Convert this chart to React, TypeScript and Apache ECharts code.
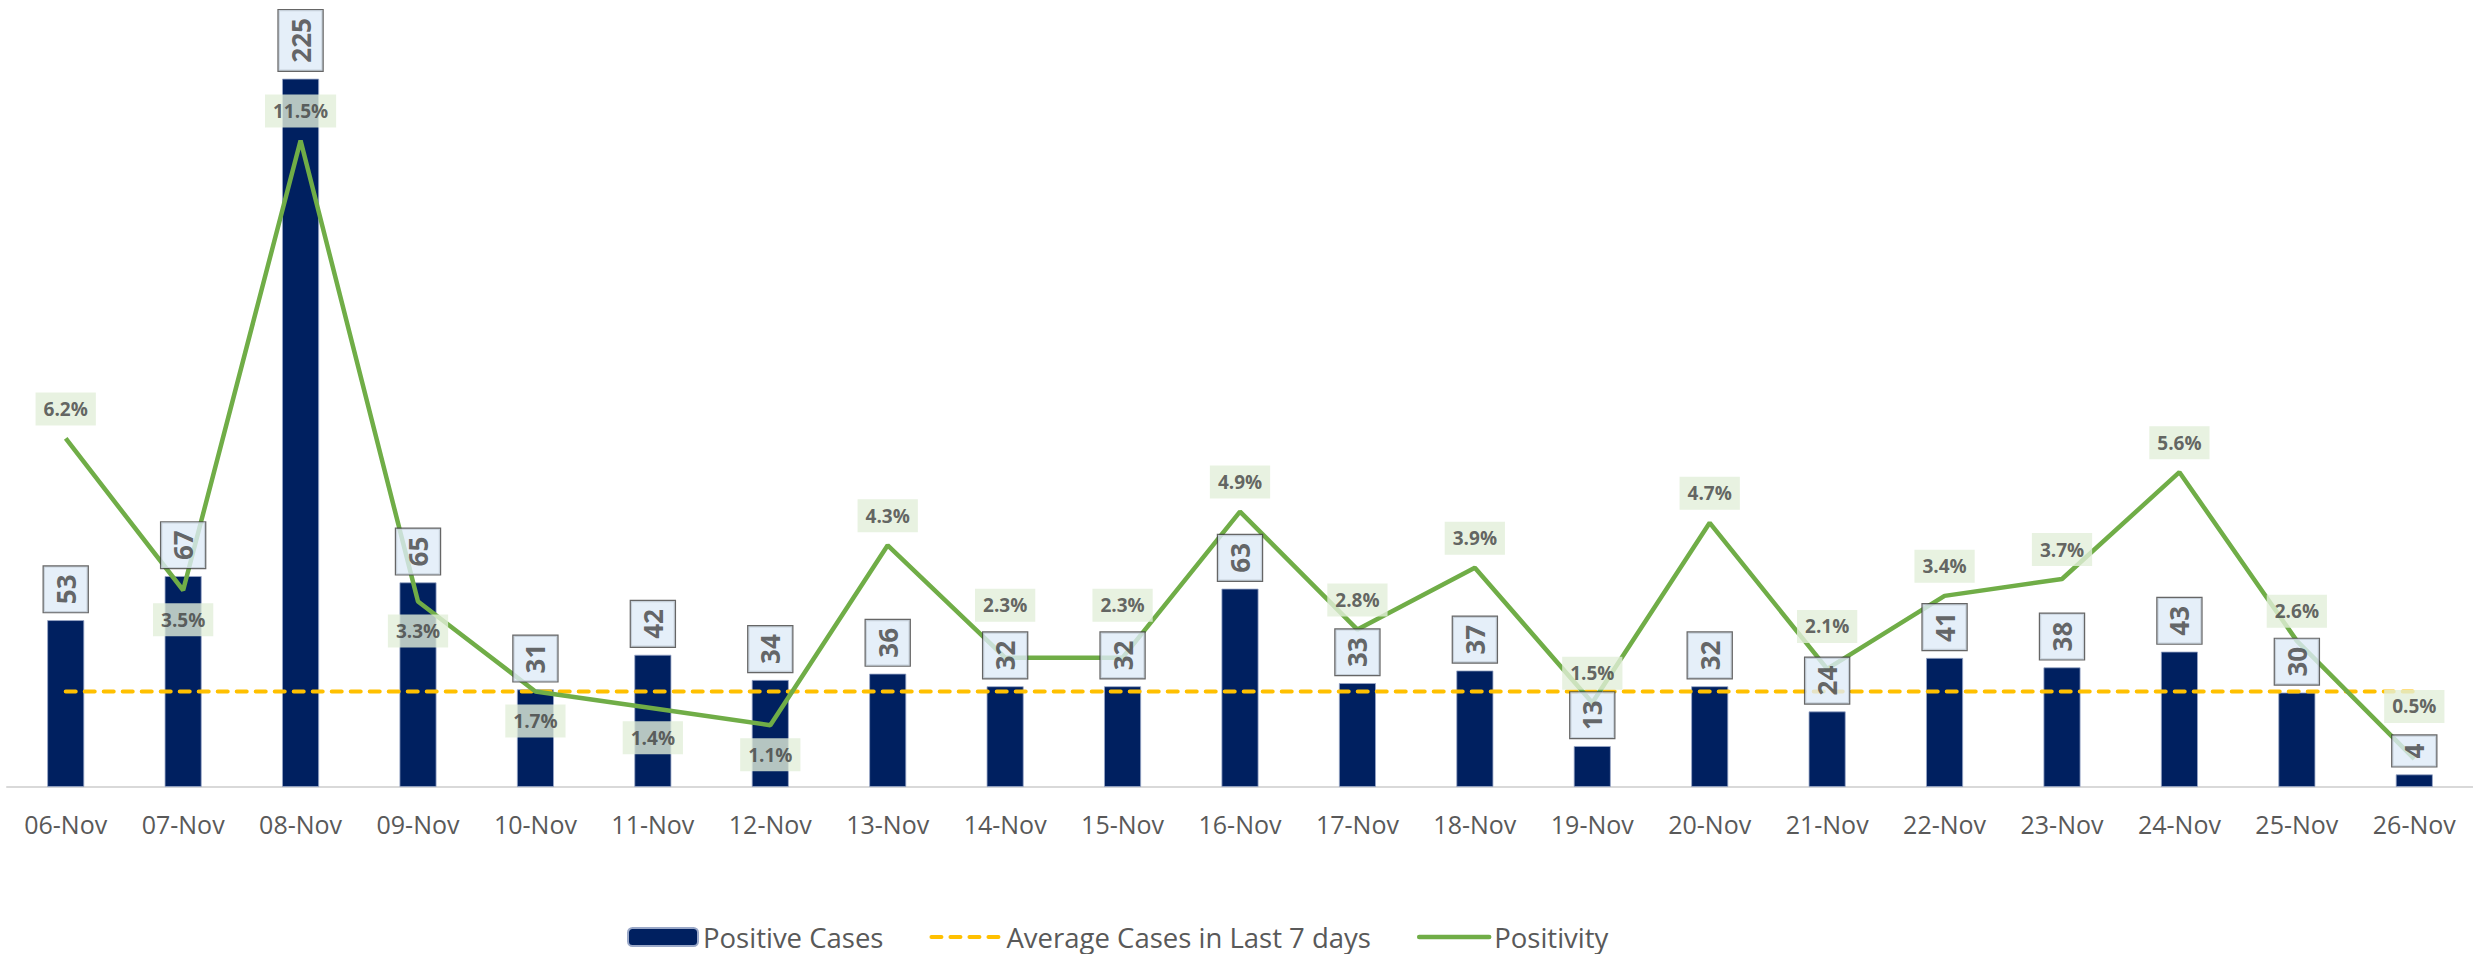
import React, { useEffect, useRef } from "react";
import * as echarts from "echarts";

const categories = [
  "06-Nov", "07-Nov", "08-Nov", "09-Nov", "10-Nov", "11-Nov", "12-Nov",
  "13-Nov", "14-Nov", "15-Nov", "16-Nov", "17-Nov", "18-Nov", "19-Nov",
  "20-Nov", "21-Nov", "22-Nov", "23-Nov", "24-Nov", "25-Nov", "26-Nov",
];
const positiveCases = [53, 67, 225, 65, 31, 42, 34, 36, 32, 32, 63, 33, 37, 13, 32, 24, 41, 38, 43, 30, 4];
const averageCases = [30.3, 30.3, 30.3, 30.3, 30.3, 30.3, 30.3, 30.3, 30.3, 30.3, 30.3, 30.3, 30.3, 30.3, 30.3, 30.3, 30.3, 30.3, 30.3, 30.3, 30.3];
const positivity = [6.2, 3.5, 11.5, 3.3, 1.7, 1.4, 1.1, 4.3, 2.3, 2.3, 4.9, 2.8, 3.9, 1.5, 4.7, 2.1, 3.4, 3.7, 5.6, 2.6, 0.5];
// indices of positivity labels placed below the point
const labelsBelow = [1, 3, 4, 5, 6];
// labels nudged further from their point (index -> distance)
const labelFar: Record<number, number> = { 8: 36, 9: 36, 15: 26, 20: 36 };

const FONT = "'Open Sans', 'Noto Sans', sans-serif";

export default function App() {
  const ref = useRef<HTMLDivElement>(null);
  useEffect(() => {
    if (!ref.current) return;
    const chart = echarts.init(ref.current, undefined, { renderer: "svg" });
    const pctData = positivity.map((v, i) => {
      const below = labelsBelow.indexOf(i) >= 0;
      const item: any = { value: v, label: { position: below ? "bottom" : "top" } };
      if (labelFar[i] !== undefined) item.label.distance = labelFar[i];
      return item;
    });
    chart.setOption({
      animation: false,
      backgroundColor: "#ffffff",
      grid: { left: 7, right: -14, top: -4, bottom: 167, containLabel: false },
      legend: {
        left: 627,
        top: 923,
        padding: 0,
        itemWidth: 70,
        itemHeight: 18,
        itemGap: 46,
        textStyle: { fontFamily: FONT, fontSize: 27.5, color: "#595959" },
        data: [
          { name: "Positive Cases" },
          {
            name: "Average Cases in Last 7 days",
            itemStyle: { opacity: 0 },
            lineStyle: { width: 4, type: [10, 9], cap: "round", color: "#FFC000" },
          },
          {
            name: "Positivity",
            itemStyle: { opacity: 0 },
            lineStyle: { width: 4.5, cap: "round", color: "#70AD47" },
          },
        ],
      },
      xAxis: {
        type: "category",
        data: categories,
        axisLine: { lineStyle: { color: "#D9D9D9", width: 2 } },
        axisTick: { show: false },
        axisLabel: { color: "#595959", fontFamily: FONT, fontSize: 25, margin: 24, interval: 0 },
      },
      yAxis: [
        { type: "value", min: 0, max: 250, show: false, splitLine: { show: false } },
        { type: "value", min: 0, max: 14, show: false, splitLine: { show: false } },
      ],
      series: [
        {
          name: "Positive Cases",
          type: "bar",
          data: positiveCases,
          barWidth: 37,
          itemStyle: { color: "#002060", borderColor: "#9AA8C8", borderWidth: 0.8 },
          z: 2,
        },
        {
          name: "Average Cases in Last 7 days",
          type: "line",
          data: averageCases,
          symbol: "none",
          lineStyle: { color: "#FFC000", width: 4, type: [10, 9], cap: "round" },
          itemStyle: { color: "#FFC000" },
          z: 3,
        },
        {
          name: "Positivity",
          type: "line",
          yAxisIndex: 1,
          data: positivity,
          symbol: "none",
          lineStyle: { color: "#70AD47", width: 4.5 },
          itemStyle: { color: "#70AD47" },
          z: 4,
        },
        {
          name: "pctLabels",
          type: "scatter",
          yAxisIndex: 1,
          data: pctData,
          symbolSize: 0,
          silent: true,
          z: 5,
          label: {
            show: true,
            distance: 13,
            formatter: (p: any) => Number(p.value).toFixed(1) + "%",
            fontFamily: FONT,
            fontSize: 19,
            fontWeight: "bold",
            color: "#404040",
            backgroundColor: "#E2EFDA",
            padding: [6, 8],
            lineHeight: 21,
          },
        },
        {
          name: "caseLabels",
          type: "scatter",
          yAxisIndex: 0,
          data: positiveCases,
          symbolSize: 0,
          silent: true,
          z: 6,
          label: {
            show: true,
            position: "top",
            distance: 8,
            rotate: 90,
            align: "left",
            verticalAlign: "middle",
            fontFamily: FONT,
            fontSize: 26,
            fontWeight: "bold",
            color: "#404040",
            backgroundColor: "#DEEBF7",
            borderColor: "#404040",
            borderWidth: 1.2,
            padding: [9, 8],
            lineHeight: 26,
          },
        },
      ],
    });
    return () => chart.dispose();
  }, []);
  return (
    <div
      ref={ref}
      style={{ position: "absolute", left: 0, top: 0, width: 2473, height: 954 }}
    />
  );
}
